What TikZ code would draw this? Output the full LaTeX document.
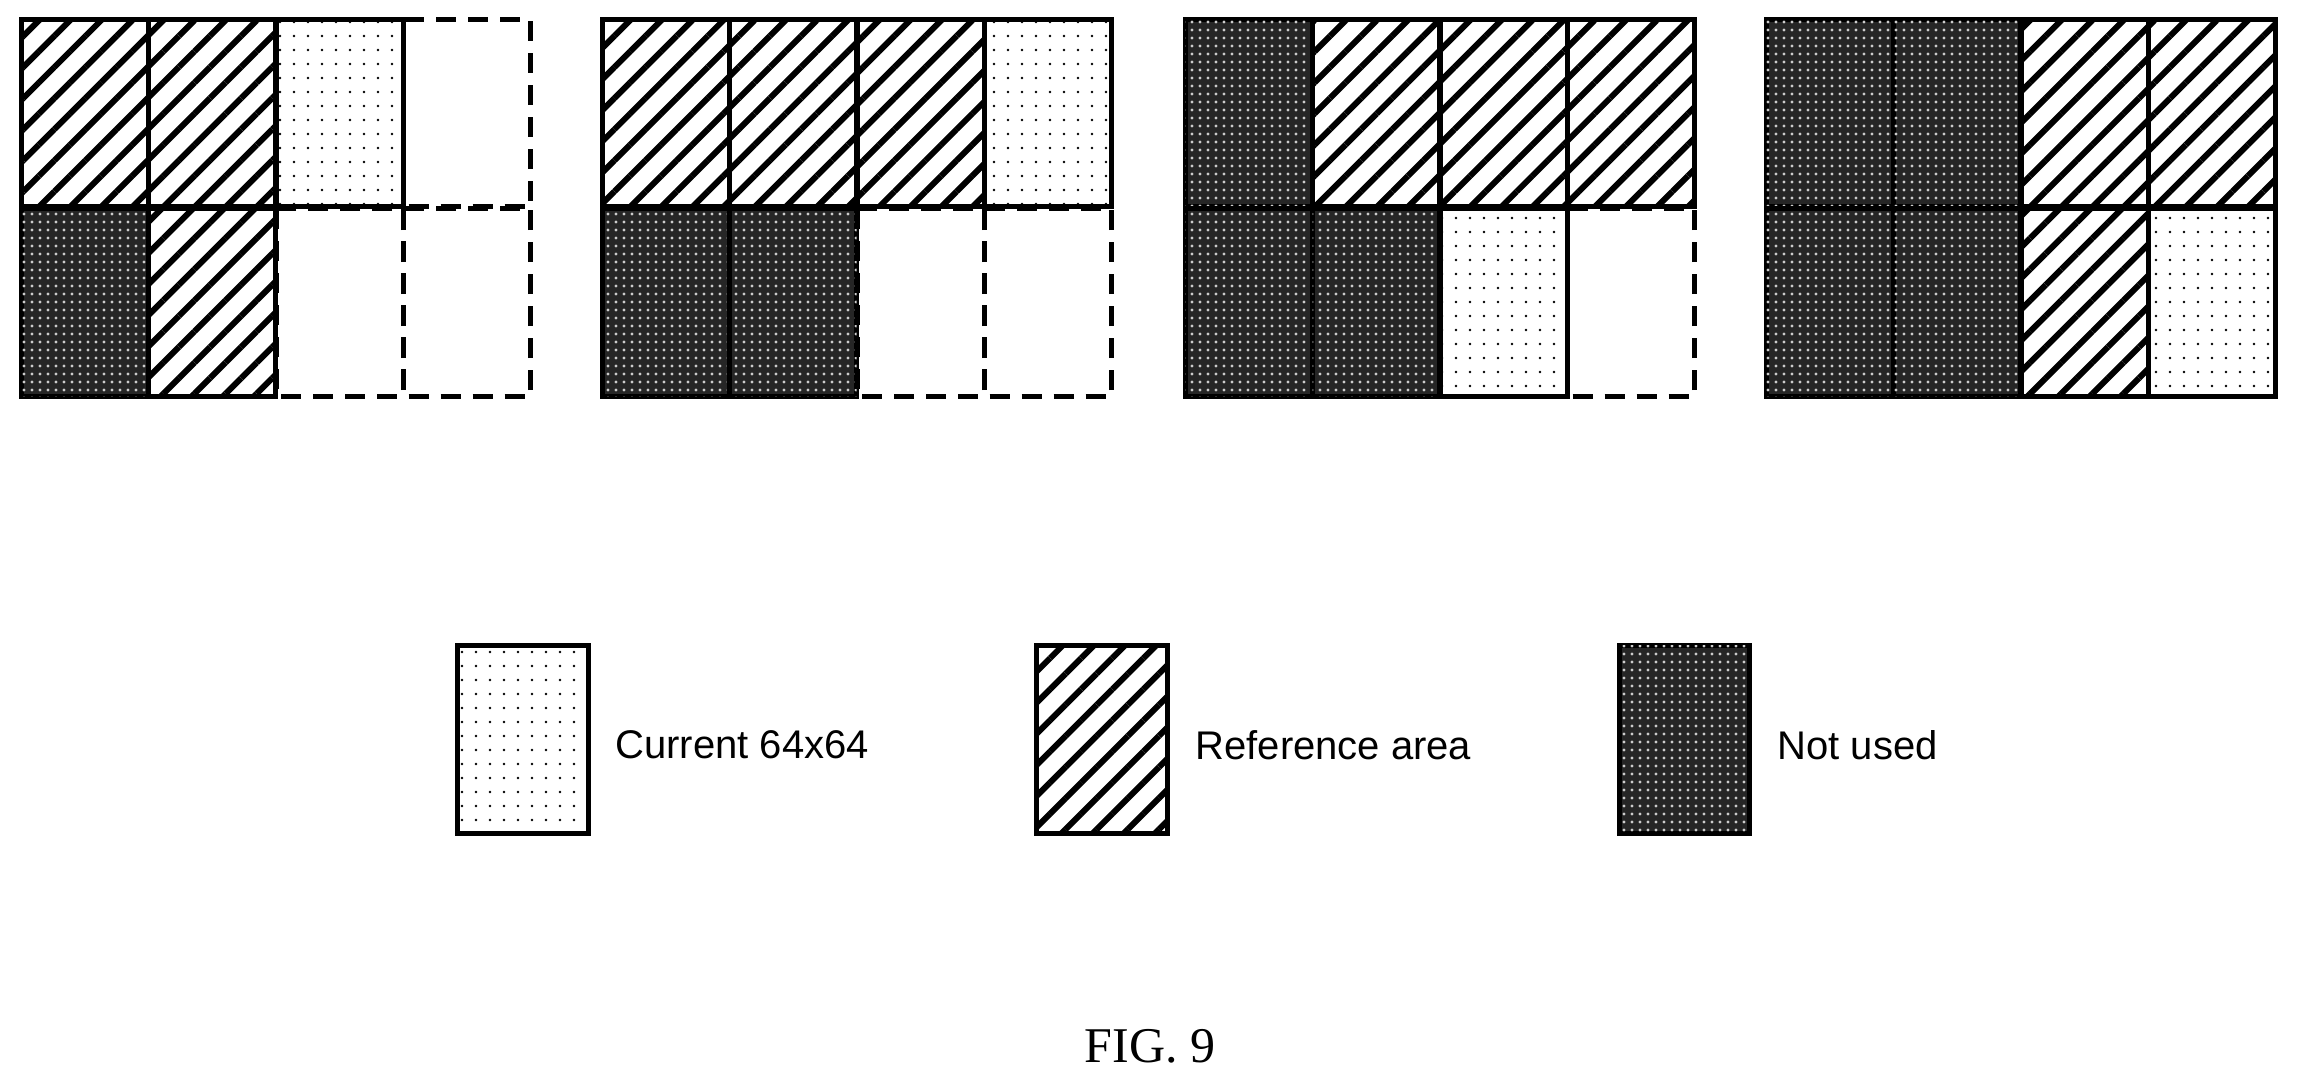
\documentclass[tikz,border=0pt]{standalone}
\usetikzlibrary{patterns.meta}
\usepackage{fontspec}
\setmainfont{Liberation Serif}
\newfontfamily\lsans{Liberation Sans}
\tikzset{
  base/.style={line width=5pt},
  R/.style={base,draw=black,pattern={Lines[angle=45,distance=22pt,line width=6pt]},pattern color=black},
  C/.style={base,draw=black,pattern={Dots[angle=0,distance=14pt,radius=1.4pt]},pattern color=black},
  N/.style={base,draw=black,fill=black!85,postaction={pattern={Dots[distance=8pt,radius=1.6pt]},pattern color=white!80!black}},
  E/.style={base,draw=black,dash pattern=on 20pt off 12pt},
  lbl/.style={font=\lsans\fontsize{40}{48}\selectfont,anchor=west},
}
\newcommand{\mycell}[4]{% x, y, type, name
  \path[#3] (#1,#2) rectangle ++(127,187) node[coordinate](#4){};}
\newcommand{\mygrid}[3]{% x0, top types, bottom types, drawn: E first
  \foreach \t [count=\i from 0] in {#2} {\ifx\t E\mycell{#1+\i*127.5}{20}{E}{c#1t\i}\fi}
  \foreach \t [count=\i from 0] in {#3} {\ifx\t E\mycell{#1+\i*127.5}{209}{E}{c#1b\i}\fi}
  \foreach \t [count=\i from 0] in {#2} {\ifx\t E\else\mycell{#1+\i*127.5}{20}{\t}{d#1t\i}\fi}
  \foreach \t [count=\i from 0] in {#3} {\ifx\t E\else\mycell{#1+\i*127.5}{209}{\t}{d#1b\i}\fi}
}
\begin{document}
\begin{tikzpicture}[x=1pt,y=-1pt]
\useasboundingbox (0,0) rectangle (2299,1086);
\mygrid{21}{R,R,C,E}{N,R,E,E}
\mygrid{602}{R,R,R,C}{N,N,E,E}
\mygrid{1185}{N,R,R,R}{N,N,C,E}
\mygrid{1766}{N,N,R,R}{N,N,R,C}
\path[C] (457,645) rectangle (588,833) node[coordinate](lc){};
\path[R] (1036,645) rectangle (1167,833) node[coordinate](lr){};
\path[N] (1619,645) rectangle (1749,833) node[coordinate](ln){};
\node[lbl] (tc) at (612,745) {Current 64x64};
\node[lbl] (tr) at (1192,745) {Reference area};
\node[lbl] (tn) at (1774,745) {Not used};
\node[font=\fontsize{50}{60}\selectfont] (fig) at (1150,1046) {FIG. 9};
\end{tikzpicture}
\end{document}
